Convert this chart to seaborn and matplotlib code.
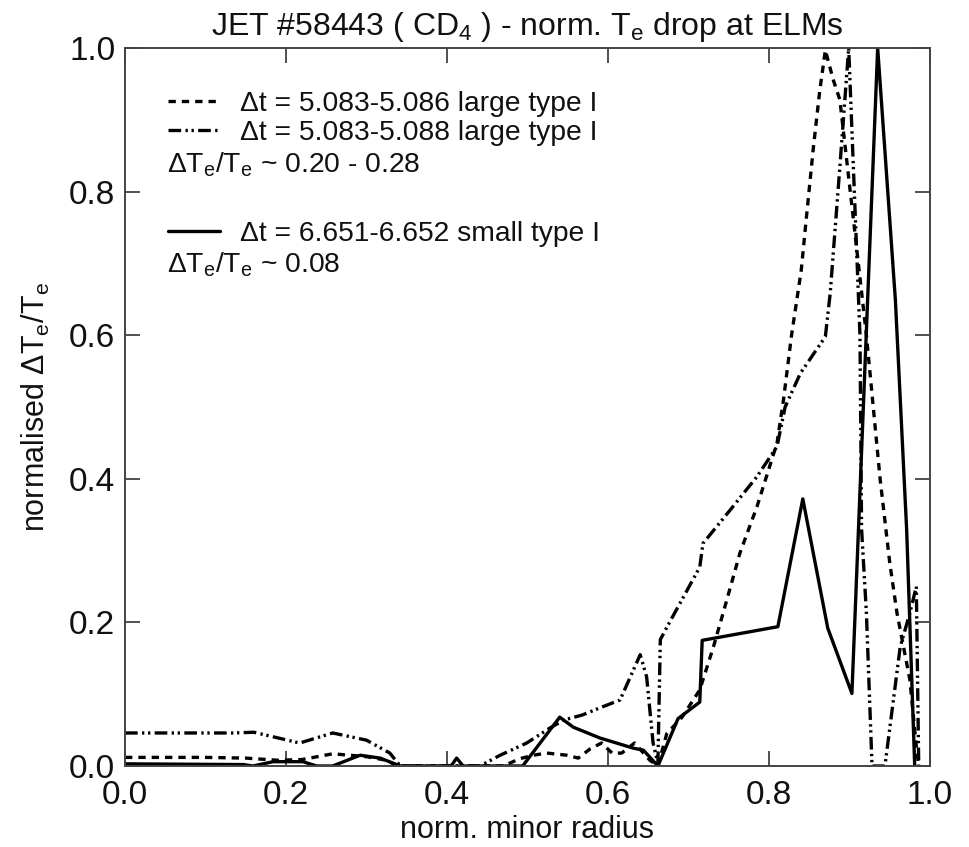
import matplotlib
matplotlib.use("Agg")
import matplotlib.pyplot as plt
from matplotlib.lines import Line2D
import seaborn as sns
import pandas as pd

# ---- data ----
dashed_x = [0.0, 0.10, 0.15, 0.19, 0.22, 0.258, 0.30, 0.325, 0.338, 0.47, 0.49, 0.507, 0.524,
            0.549, 0.563, 0.578, 0.592, 0.605, 0.617, 0.633, 0.652, 0.662, 0.673, 0.692, 0.714,
            0.731, 0.743, 0.764, 0.785, 0.81, 0.818, 0.828, 0.84, 0.847, 0.855, 0.863, 0.87,
            0.88, 0.888, 0.905, 0.921, 0.938, 0.95, 0.959, 0.975, 0.983, 0.986]
dashed_y = [0.012, 0.012, 0.011, 0.008, 0.009, 0.017, 0.013, 0.008, 0.0, 0.0, 0.010, 0.015, 0.018,
            0.015, 0.011, 0.024, 0.032, 0.018, 0.018, 0.032, 0.008, 0.0, 0.045, 0.068, 0.106,
            0.166, 0.213, 0.297, 0.361, 0.45, 0.51, 0.60, 0.69, 0.77, 0.86, 0.94, 0.997,
            0.955, 0.928, 0.76, 0.60, 0.40, 0.283, 0.213, 0.12, 0.027, 0.0]

dashdot_x = [0.0, 0.134, 0.16, 0.217, 0.258, 0.30, 0.329, 0.342, 0.441, 0.466, 0.499, 0.528,
             0.545, 0.568, 0.59, 0.615, 0.64, 0.648, 0.656, 0.662, 0.665, 0.673, 0.714, 0.718,
             0.755, 0.785, 0.81, 0.82, 0.839, 0.87, 0.876, 0.888, 0.899, 0.913, 0.915, 0.921,
             0.928, 0.944, 0.963, 0.975, 0.983, 0.986]
dashdot_y = [0.046, 0.046, 0.047, 0.032, 0.046, 0.036, 0.018, 0.0, 0.0, 0.015, 0.032, 0.053,
             0.064, 0.071, 0.081, 0.092, 0.155, 0.124, 0.032, 0.004, 0.176, 0.193, 0.277, 0.31,
             0.361, 0.403, 0.445, 0.50, 0.547, 0.598, 0.658, 0.834, 1.0, 0.60, 0.33, 0.213,
             0.0, 0.0, 0.166, 0.213, 0.25, 0.0]

solid_x = [0.0, 0.147, 0.159, 0.184, 0.221, 0.238, 0.258, 0.292, 0.317, 0.342, 0.405, 0.412,
           0.42, 0.494, 0.54, 0.557, 0.59, 0.631, 0.644, 0.662, 0.687, 0.714, 0.717, 0.811,
           0.842, 0.873, 0.903, 0.935, 0.957, 0.971, 0.981]
solid_y = [0.003, 0.002, 0.0, 0.006, 0.006, 0.0, 0.0, 0.015, 0.011, 0.0, 0.0, 0.011,
           0.0, 0.0, 0.068, 0.054, 0.039, 0.025, 0.022, 0.0, 0.066, 0.089, 0.175, 0.194,
           0.372, 0.192, 0.101, 1.0, 0.649, 0.329, 0.0]

label_dashed = "Δt = 5.083-5.086 large type I"
label_dashdot = "Δt = 5.083-5.088 large type I"
label_solid = "Δt = 6.651-6.652 small type I"
note_large = r"ΔT$_\mathrm{e}$/T$_\mathrm{e}$ ~ 0.20 - 0.28"
note_small = r"ΔT$_\mathrm{e}$/T$_\mathrm{e}$ ~ 0.08"
title = r"JET #58443 ( CD$_4$ ) - norm. T$_\mathrm{e}$ drop at ELMs"
xlabel = "norm. minor radius"
ylabel = r"normalised ΔT$_\mathrm{e}$/T$_\mathrm{e}$"
ticks = [0.0, 0.2, 0.4, 0.6, 0.8, 1.0]
tick_labels = ["0.0", "0.2", "0.4", "0.6", "0.8", "1.0"]

# ---- styling ----
sns.set_theme(style="white")
plt.rcParams["font.family"] = ["Liberation Sans", "DejaVu Sans"]
plt.rcParams["mathtext.fontset"] = "custom"
plt.rcParams["mathtext.rm"] = "Liberation Sans"
plt.rcParams["mathtext.it"] = "Liberation Sans:italic"
plt.rcParams["mathtext.bf"] = "Liberation Sans:bold"

fig = plt.figure(figsize=(9.69, 8.47), dpi=100)
ax = fig.add_axes([125 / 969, 81 / 847, 805 / 969, 718 / 847])

LW = 2.4
ls_dashed = (0, (2.2, 1.8))
ls_dashdot = (0, (3.8, 1.3, 0.7, 1.1, 0.7, 1.3))

df_d = pd.DataFrame({"x": dashed_x, "y": dashed_y})
df_dd = pd.DataFrame({"x": dashdot_x, "y": dashdot_y})
df_s = pd.DataFrame({"x": solid_x, "y": solid_y})

sns.lineplot(data=df_d, x="x", y="y", ax=ax, color="black", lw=LW, linestyle=ls_dashed,
             estimator=None, sort=False)
sns.lineplot(data=df_dd, x="x", y="y", ax=ax, color="black", lw=LW, linestyle=ls_dashdot,
             estimator=None, sort=False)
sns.lineplot(data=df_s, x="x", y="y", ax=ax, color="black", lw=LW, linestyle="-",
             estimator=None, sort=False)

ax.set_xlim(0, 1.0)
ax.set_ylim(0, 1.0)
ax.set_xticks(ticks)
ax.set_xticklabels(tick_labels)
ax.set_yticks(ticks)
ax.set_yticklabels(tick_labels)
ax.tick_params(direction="in", length=11, width=1.2, color="#333333",
               top=True, right=True, left=True, bottom=True,
               labelsize=24, labelcolor="#111111")
ax.tick_params(axis="y", pad=7)
ax.tick_params(axis="x", pad=10)
for sp in ax.spines.values():
    sp.set_color("#444444")
    sp.set_linewidth(1.4)

ax.set_title(title, fontsize=23, pad=9, color="#111111")
ax.set_xlabel(xlabel, fontsize=22, labelpad=3, color="#111111")
ax.set_ylabel(ylabel, fontsize=22, labelpad=12, color="#111111")

# legends
h_d = Line2D([], [], color="black", lw=LW, linestyle=ls_dashed)
h_dd = Line2D([], [], color="black", lw=LW, linestyle=ls_dashdot)
h_s = Line2D([], [], color="black", lw=LW, linestyle="-")

FS = 20.3
leg1 = ax.legend([h_d, h_dd], [label_dashed, label_dashdot], loc="upper left",
                 bbox_to_anchor=(0.053, 0.94), frameon=False, fontsize=FS,
                 handlelength=1.85, handletextpad=0.7, labelspacing=0.1,
                 borderpad=0, borderaxespad=0, labelcolor="#111111")
ax.add_artist(leg1)
ax.legend([h_s], [label_solid], loc="upper left",
          bbox_to_anchor=(0.053, 0.759), frameon=False, fontsize=FS,
          handlelength=1.85, handletextpad=0.7, borderpad=0, borderaxespad=0,
          labelcolor="#111111")

ax.text(0.052, 0.837, note_large, transform=ax.transAxes, fontsize=FS, va="center",
        ha="left", color="#111111")
ax.text(0.052, 0.698, note_small, transform=ax.transAxes, fontsize=FS, va="center",
        ha="left", color="#111111")

fig.savefig("out.png", dpi=100)
